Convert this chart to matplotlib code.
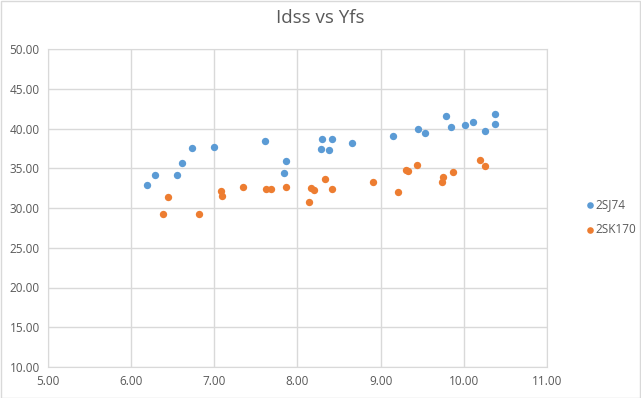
import matplotlib
matplotlib.use("Agg")
import matplotlib.pyplot as plt

# Yfs (x) and Idss (y) readings for each part
sj74_yfs = [6.19, 6.29, 6.555, 6.615, 6.735, 7.00, 7.61, 7.84, 7.865,
            8.30, 8.41, 8.286, 8.38, 8.65, 9.15, 9.45, 9.536, 9.79, 9.85,
            10.02, 10.11, 10.26, 10.37, 10.38]
sj74_idss = [32.88, 34.13, 34.13, 35.64, 37.53, 37.65, 38.4, 34.4, 35.9,
             38.65, 38.65, 37.4, 37.27, 38.15, 39.03, 39.95, 39.4, 41.55, 40.16,
             40.4, 40.8, 39.66, 40.54, 41.8]

sk170_yfs = [6.387, 6.447, 6.81, 7.08, 7.096, 7.35, 7.617, 7.685, 7.865,
             8.14, 8.166, 8.20, 8.335, 8.41, 8.91, 9.21, 9.31, 9.33, 9.44,
             9.74, 9.75, 9.87, 10.20, 10.25]
sk170_idss = [29.23, 31.37, 29.23, 32.12, 31.5, 32.63, 32.37, 32.37, 32.63,
              30.74, 32.5, 32.25, 33.63, 32.37, 33.25, 32.0, 34.76, 34.63, 35.4,
              33.25, 33.9, 34.5, 36.0, 35.26]

x_ticks = [5, 6, 7, 8, 9, 10, 11]
y_ticks = [10, 15, 20, 25, 30, 35, 40, 45, 50]

plt.rcParams['font.family'] = ['Open Sans', 'DejaVu Sans']

W, H = 641, 398
fig = plt.figure(figsize=(W / 100, H / 100), dpi=100)
ax = fig.add_axes([48 / W, 1 - 367 / H, (547 - 48) / W, (367 - 49) / H])

ax.scatter(sj74_yfs, sj74_idss, s=28, color='#5B9BD5', label='2SJ74', zorder=3, linewidths=0)
ax.scatter(sk170_yfs, sk170_idss, s=28, color='#ED7D31', label='2SK170', zorder=3, linewidths=0)

ax.set_xlim(5, 11)
ax.set_ylim(10, 50)
ax.set_xticks(x_ticks)
ax.set_yticks(y_ticks)
ax.set_xticklabels([f"{v:.2f}" for v in x_ticks])
ax.set_yticklabels([f"{v:.2f}" for v in y_ticks])
ax.tick_params(length=0, labelsize=8.5, colors='#595959', pad=6)
ax.grid(True, color='#D9D9D9', linewidth=1)
ax.set_axisbelow(True)
for side in ['top', 'right', 'left', 'bottom']:
    ax.spines[side].set_color('#D9D9D9')

fig.text(0.5, 1 - 18 / H, 'Idss vs Yfs', ha='center', va='center', fontsize=13.5, color='#595959')

fig.legend(loc='center left', bbox_to_anchor=(573 / W, 1 - 217 / H), frameon=False,
           fontsize=8.5, labelcolor='#595959', handletextpad=0.0, labelspacing=1.0,
           handlelength=1.0, markerscale=0.9)

# thin frame around the whole chart, like the spreadsheet chart area
fig.patches.append(plt.Rectangle((0.5 / W, 0.5 / H), 1 - 1.5 / W, 1 - 1.5 / H,
                                 transform=fig.transFigure, fill=False,
                                 edgecolor='#D9D9D9', linewidth=1))

fig.savefig('out.png', dpi=100)
